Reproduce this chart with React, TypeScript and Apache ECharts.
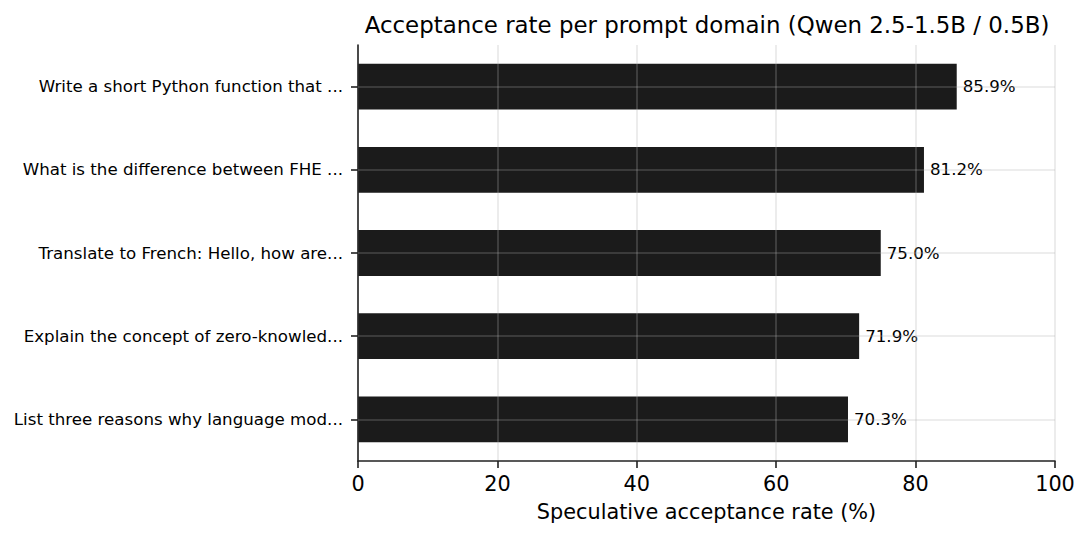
import React, { useEffect, useRef } from "react";
import * as echarts from "echarts";

const categories = [
  "Write a short Python function that ...",
  "What is the difference between FHE ...",
  "Translate to French: Hello, how are...",
  "Explain the concept of zero-knowled...",
  "List three reasons why language mod...",
];
const values = [85.9, 81.2, 75.0, 71.9, 70.3];
const xTicks = { min: 0, max: 100, interval: 20 };

const FONT = "DejaVu Sans";
const GRID_COLOR = "rgba(176,176,176,0.3)";
const AXIS_COLOR = "#222";

export default function App() {
  const ref = useRef<HTMLDivElement>(null);
  useEffect(() => {
    document.body.style.margin = "0";
    if (!ref.current) return;
    const chart = echarts.init(ref.current, undefined, { renderer: "svg" });
    chart.setOption({
      animation: false,
      textStyle: { fontFamily: FONT, color: "#000" },
      title: {
        text: "Acceptance rate per prompt domain (Qwen 2.5-1.5B / 0.5B)",
        left: 702,
        textAlign: "center",
        top: 8,
        textStyle: { fontFamily: FONT, fontSize: 22.9, fontWeight: "normal", color: "#000" },
      },
      grid: { left: 358, right: 35, top: 45, bottom: 78, containLabel: false },
      xAxis: {
        type: "value",
        min: xTicks.min,
        max: xTicks.max,
        interval: xTicks.interval,
        z: 3,
        name: "Speculative acceptance rate (%)",
        nameLocation: "middle",
        nameGap: 40,
        nameTextStyle: { fontFamily: FONT, fontSize: 20.8, color: "#000" },
        axisLine: { show: true, lineStyle: { color: AXIS_COLOR, width: 1.6 } },
        axisTick: { show: true, length: 7, lineStyle: { color: AXIS_COLOR, width: 1.6 } },
        axisLabel: { margin: 12.5, fontFamily: FONT, fontSize: 20.8, color: "#000" },
        splitLine: { show: true, lineStyle: { color: GRID_COLOR, width: 1.6 } },
      },
      yAxis: {
        type: "category",
        data: categories,
        inverse: true,
        z: 3,
        axisLine: { show: true, lineStyle: { color: AXIS_COLOR, width: 1.6 } },
        axisTick: { show: true, alignWithLabel: true, length: 7, lineStyle: { color: AXIS_COLOR, width: 1.6 } },
        axisLabel: {
          margin: 15,
          fontFamily: FONT,
          fontSize: 16.67,
          color: "#000",
          padding: [4, 0, 0, 0],
        },
        splitLine: { show: false },
      },
      series: [
        {
          type: "bar",
          data: values,
          barCategoryGap: "45%",
          itemStyle: { color: "#1b1b1b" },
          label: {
            show: true,
            position: "right",
            distance: 6,
            fontFamily: FONT,
            fontSize: 16.67,
            color: "#000",
            padding: [3, 0, 0, 0],
            formatter: (p: any) => `${Number(p.value).toFixed(1)}%`,
          },
          markLine: {
            silent: true,
            symbol: "none",
            label: { show: false },
            lineStyle: { color: GRID_COLOR, width: 1.6, type: "solid" },
            data: categories.map((c) => ({ yAxis: c })),
          },
        },
      ],
    });
    return () => chart.dispose();
  }, []);
  return <div ref={ref} style={{ width: 1090, height: 539 }} />;
}
